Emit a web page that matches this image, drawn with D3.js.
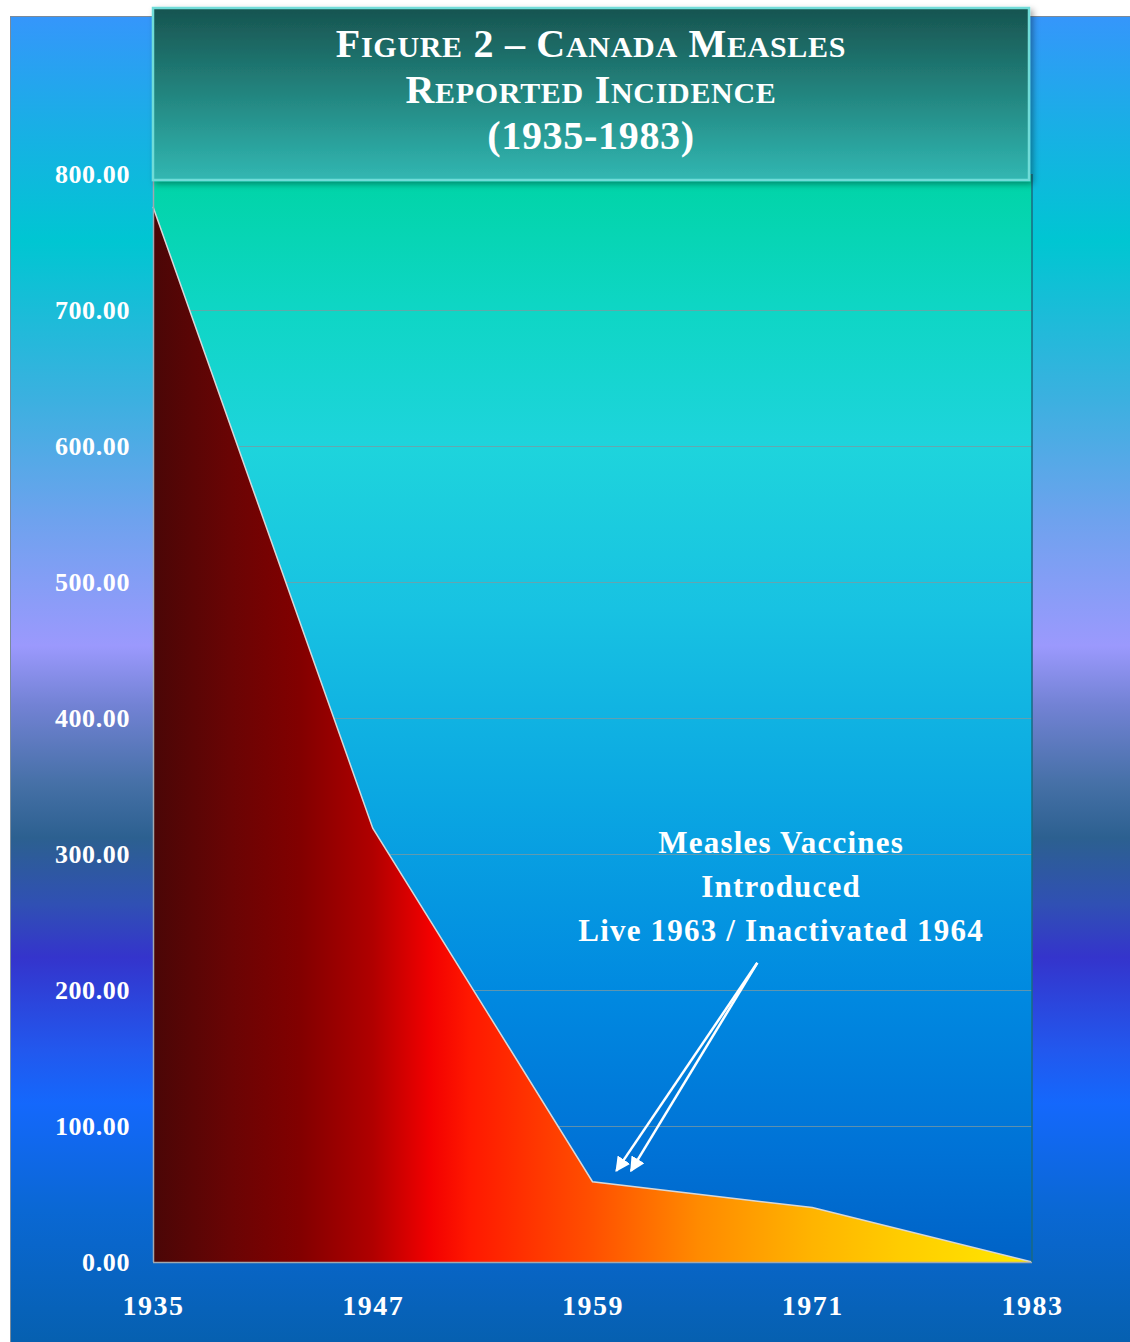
<!DOCTYPE html>
<html>
<head>
<meta charset="utf-8">
<script src="https://cdn.jsdelivr.net/npm/d3@7"></script>
<style>
html,body{margin:0;padding:0;background:#fff;}
svg{display:block;}
text{font-family:"Liberation Serif","Times New Roman",serif;font-weight:bold;fill:#fff;}
</style>
</head>
<body>
<svg id="chart" width="1130" height="1342"></svg>
<script>
// ---- data ----
const years = [1935, 1947, 1959, 1971, 1983];
const incidence = [776, 319, 59, 40, 0];
const yTicks = [0, 100, 200, 300, 400, 500, 600, 700, 800];
const xTicks = [1935, 1947, 1959, 1971, 1983];
const titleLines = ["Figure 2 – Canada Measles", "Reported Incidence", "(1935-1983)"];
const noteLines = ["Measles Vaccines", "Introduced", "Live 1963 / Inactivated 1964"];
const noteAnchor = { year: 1969.3, value: 301 };
const arrowFrom = { year: 1968.0, value: 220 };
const arrowTips = [{ year: 1960.3, value: 67 }, { year: 1961.1, value: 67 }];

const svg = d3.select("#chart");
const W = 1130, H = 1342;
const plot = { left: 153, right: 1032, top: 174, bottom: 1262 };

const x = d3.scaleLinear().domain([1935, 1983]).range([plot.left, plot.right]);
const y = d3.scaleLinear().domain([0, 800]).range([plot.bottom, plot.top]);

const defs = svg.append("defs");
function vgrad(id, stops, y1, y2) {
  const g = defs.append("linearGradient").attr("id", id)
    .attr("gradientUnits", "userSpaceOnUse")
    .attr("x1", 0).attr("x2", 0).attr("y1", y1).attr("y2", y2);
  stops.forEach(s => g.append("stop").attr("offset", s[0]).attr("stop-color", s[1]));
}
// page background
vgrad("bgGrad", [
  [0.00, "#3596fb"], [0.08, "#1aaee6"], [0.17, "#00c6d2"], [0.29, "#3cb0e0"],
  [0.38, "#6ea2ee"], [0.475, "#9b99fd"], [0.52, "#7282d4"], [0.58, "#4570a6"],
  [0.62, "#2c6090"], [0.67, "#3050b4"], [0.71, "#3434cc"], [0.78, "#2258ee"],
  [0.82, "#1468fc"], [0.90, "#0a68d4"], [1.00, "#0660b0"]
], 16, 1342);
// plot background
vgrad("plotGrad", [
  [0.00, "#00d4a6"], [0.12, "#0ed6c4"], [0.25, "#1ed4dc"], [0.40, "#18c2e2"],
  [0.58, "#0aa6e2"], [0.76, "#0088e0"], [0.90, "#0072d6"], [1.00, "#0062c6"]
], plot.top, plot.bottom);
// title box
vgrad("titleGrad", [[0, "#175450"], [0.5, "#23857f"], [1, "#31b7b2"]], 8, 180);
// area fill horizontal
const ag = defs.append("linearGradient").attr("id", "areaGrad")
  .attr("gradientUnits", "userSpaceOnUse")
  .attr("x1", plot.left).attr("x2", plot.right).attr("y1", 0).attr("y2", 0);
[[0, "#4a0606"], [0.09, "#6a0404"], [0.167, "#820000"], [0.25, "#b00000"], [0.315, "#f20000"],
 [0.36, "#ff1800"], [0.5, "#ff5000"], [0.62, "#ff8a00"], [0.75, "#ffb400"], [0.85, "#ffcc00"], [1, "#ffe800"]]
  .forEach(s => ag.append("stop").attr("offset", s[0]).attr("stop-color", s[1]));

const shadow = defs.append("filter").attr("id", "shadow").attr("x", "-5%").attr("y", "-5%").attr("width", "115%").attr("height", "130%");
shadow.append("feDropShadow").attr("dx", 3).attr("dy", 3).attr("stdDeviation", 3).attr("flood-color", "#000").attr("flood-opacity", 0.35);

defs.append("marker").attr("id", "arrowHead").attr("viewBox", "0 0 10 10")
  .attr("refX", 9).attr("refY", 5).attr("markerWidth", 6).attr("markerHeight", 6)
  .attr("markerUnits", "strokeWidth").attr("orient", "auto")
  .append("path").attr("d", "M0,0 L10,5 L0,10 Z").attr("fill", "#fff");

// background
svg.append("rect").attr("x", 10).attr("y", 16).attr("width", W - 10).attr("height", H - 16)
  .attr("fill", "url(#bgGrad)");
svg.append("path").attr("d", `M10.5,${H} V16.5 H${W}`).attr("fill", "none").attr("stroke", "#7a8a9a").attr("stroke-width", 1);

// plot area
svg.append("rect").attr("x", plot.left).attr("y", plot.top)
  .attr("width", plot.right - plot.left).attr("height", plot.bottom - plot.top)
  .attr("fill", "url(#plotGrad)");

// gridlines
svg.append("g").selectAll("line").data(yTicks.filter(d => d > 0)).join("line")
  .attr("x1", plot.left).attr("x2", plot.right)
  .attr("y1", d => Math.round(y(d)) + 0.5).attr("y2", d => Math.round(y(d)) + 0.5)
  .attr("stroke", "#7c9aa0").attr("stroke-opacity", 0.75).attr("stroke-width", 1);

// area
const data = years.map((yr, i) => ({ year: yr, value: incidence[i] }));
const area = d3.area().x(d => x(d.year)).y0(y(0)).y1(d => y(d.value));
const line = d3.line().x(d => x(d.year)).y(d => y(d.value));
svg.append("path").datum(data).attr("d", area).attr("fill", "url(#areaGrad)");
svg.append("path").datum(data).attr("d", line).attr("fill", "none")
  .attr("stroke", "#d8d8d8").attr("stroke-width", 1.5);

// plot frame
svg.append("line").attr("x1", plot.left + 0.5).attr("x2", plot.left + 0.5).attr("y1", plot.top).attr("y2", plot.bottom)
  .attr("stroke", "#a0a8b0").attr("stroke-width", 1.5);
svg.append("line").attr("x1", plot.left).attr("x2", plot.right).attr("y1", plot.bottom + 0.5).attr("y2", plot.bottom + 0.5)
  .attr("stroke", "#a0a8b0").attr("stroke-width", 1.5);
svg.append("line").attr("x1", plot.right).attr("x2", plot.right).attr("y1", plot.top).attr("y2", plot.bottom)
  .attr("stroke", "#1a6a80").attr("stroke-width", 1.5);

// axes
const yAxis = svg.append("g").attr("transform", `translate(${plot.left},0)`)
  .call(d3.axisLeft(y).tickValues(yTicks).tickFormat(d3.format(".2f")).tickSize(0).tickPadding(23));
yAxis.select(".domain").remove();
yAxis.selectAll("text").attr("font-size", 26).attr("fill", "#fff").attr("letter-spacing", 0.6)
  .style("font-family", '"Liberation Serif", serif').style("font-weight", "bold");

const xAxis = svg.append("g").attr("transform", `translate(0,${plot.bottom})`)
  .call(d3.axisBottom(x).tickValues(xTicks).tickFormat(d3.format("d")).tickSize(0).tickPadding(33));
xAxis.select(".domain").remove();
xAxis.selectAll("text").attr("font-size", 28).attr("fill", "#fff").attr("letter-spacing", 1.5)
  .style("font-family", '"Liberation Serif", serif').style("font-weight", "bold");

// annotation
const note = svg.append("text").attr("text-anchor", "middle").attr("font-size", 31).attr("letter-spacing", 1.2);
noteLines.forEach((t, i) => {
  note.append("tspan").attr("x", x(noteAnchor.year)).attr("y", y(noteAnchor.value) + i * 44).text(t);
});
arrowTips.forEach(tip => {
  svg.append("line")
    .attr("x1", x(arrowFrom.year)).attr("y1", y(arrowFrom.value))
    .attr("x2", x(tip.year)).attr("y2", y(tip.value))
    .attr("stroke", "#fff").attr("stroke-width", 2.5)
    .attr("marker-end", "url(#arrowHead)");
});

// title box
const tb = { x: 153, y: 8, w: 876, h: 172 };
svg.append("rect").attr("x", tb.x).attr("y", tb.y).attr("width", tb.w).attr("height", tb.h)
  .attr("fill", "url(#titleGrad)").attr("stroke", "#6fdcd8").attr("stroke-width", 2.5)
  .attr("filter", "url(#shadow)");

function smallCaps(sel, str, big, small) {
  let run = "", runLower = null;
  const flush = () => {
    if (!run) return;
    sel.append("tspan").attr("font-size", runLower ? small : big).text(runLower ? run.toUpperCase() : run);
    run = "";
  };
  for (const ch of str) {
    const lower = ch !== ch.toUpperCase();
    if (runLower !== null && lower !== runLower) flush();
    runLower = lower;
    run += ch;
  }
  flush();
}
const titleBaselines = [57, 103, 149];
titleLines.forEach((t, i) => {
  const tx = svg.append("text").attr("text-anchor", "middle").attr("letter-spacing", 0.7)
    .attr("x", tb.x + tb.w / 2).attr("y", titleBaselines[i]);
  smallCaps(tx, t, 40, 30);
});
</script>
</body>
</html>
